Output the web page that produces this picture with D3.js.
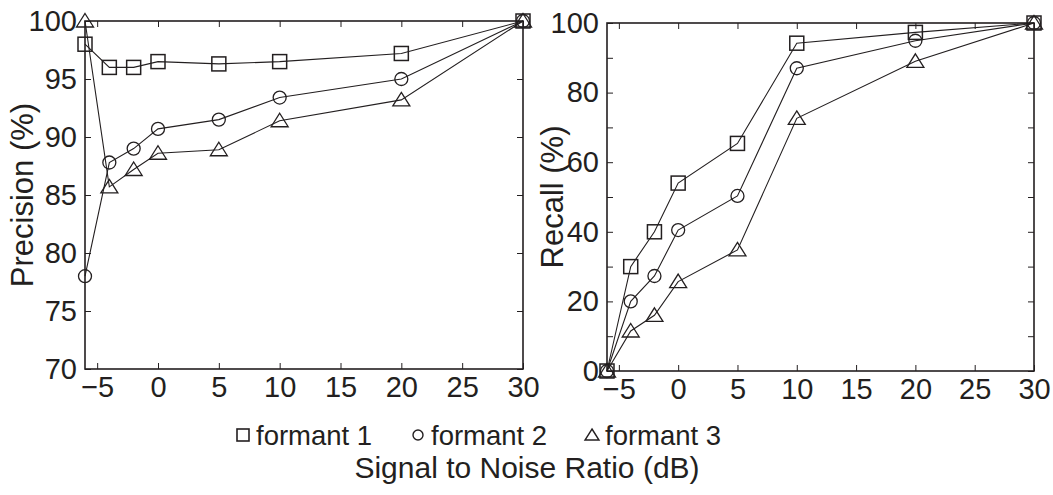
<!DOCTYPE html>
<html><head><meta charset="utf-8">
<script src="https://cdn.jsdelivr.net/npm/d3@7/dist/d3.min.js"></script>
<style>
html,body{margin:0;padding:0;background:#fff;}
svg{display:block;font-family:"Liberation Sans",Arial,Helvetica,sans-serif;}
</style></head>
<body>
<svg id="chart" width="1053" height="495"></svg>
<script>
const snr = [-6, -4, -2, 0, 5, 10, 20, 30];
const precFormant1 = [98, 96, 96, 96.5, 96.3, 96.5, 97.2, 100];
const precFormant2 = [78, 87.8, 89, 90.7, 91.5, 93.4, 95, 100];
const precFormant3 = [100, 85.7, 87.2, 88.6, 88.9, 91.4, 93.2, 100];
const recFormant1 = [0, 30, 40, 54, 65.4, 94.2, 97.3, 100];
const recFormant2 = [0, 20, 27.3, 40.5, 50.3, 87, 94.9, 100];
const recFormant3 = [0, 11.5, 16, 25.7, 34.8, 72.6, 89, 100];
const xTicks = [-5, 0, 5, 10, 15, 20, 25, 30];
const precTicks = [70, 75, 80, 85, 90, 95, 100];
const recTicks = [0, 10, 20, 30, 40, 50, 60, 70, 80, 90, 100];
const recLabels = [0, 20, 40, 60, 80, 100];
const seriesNames = ["formant 1", "formant 2", "formant 3"];
const markerTypes = ["square", "circle", "triangle"];

const ink = "#231f20";
const svg = d3.select("#chart");
const fmt = v => (v < 0 ? "\u2212" + Math.abs(v) : String(v));

function marker(g, type, x, y) {
  if (type === "square") {
    g.append("rect").attr("x", x - 7).attr("y", y - 7).attr("width", 14).attr("height", 14)
      .attr("fill", "none").attr("stroke", ink).attr("stroke-width", 1.5);
  } else if (type === "circle") {
    g.append("circle").attr("cx", x).attr("cy", y).attr("r", 6.5)
      .attr("fill", "none").attr("stroke", ink).attr("stroke-width", 1.3);
  } else {
    g.append("path").attr("d", `M${x},${y - 7.5}L${x + 8.5},${y + 6}L${x - 8.5},${y + 6}Z`)
      .attr("fill", "none").attr("stroke", ink).attr("stroke-width", 1.3);
  }
}

function panel(box, yDomain, yTicks, yLabels, series, title, titleX) {
  const x = d3.scaleLinear().domain([-6, 30]).range([box.x0, box.x1]);
  const y = d3.scaleLinear().domain(yDomain).range([box.y1, box.y0]);
  const g = svg.append("g");
  const tl = 6;
  const axB = d3.axisBottom(x).tickValues(xTicks).tickSize(-tl).tickFormat(fmt).tickPadding(7);
  const axT = d3.axisTop(x).tickValues(xTicks).tickSize(-tl).tickFormat("");
  const axL = d3.axisLeft(y).tickValues(yTicks).tickSize(-tl)
    .tickFormat(d => yLabels.includes(d) ? String(d) : "").tickPadding(8);
  const axR = d3.axisRight(y).tickValues(yTicks).tickSize(-tl).tickFormat("");
  const style = sel => {
    sel.select(".domain").remove();
    sel.selectAll(".tick line").attr("stroke", ink).attr("stroke-width", 1);
    sel.selectAll(".tick text").attr("fill", ink).style("font-size", "29px")
      .style("font-family", "'Liberation Sans',Arial,sans-serif");
  };
  g.append("g").attr("transform", `translate(0,${box.y1})`).call(axB).call(style);
  g.append("g").attr("transform", `translate(0,${box.y0})`).call(axT).call(style);
  g.append("g").attr("transform", `translate(${box.x0},0)`).call(axL).call(style);
  g.append("g").attr("transform", `translate(${box.x1},0)`).call(axR).call(style);
  g.append("rect").attr("x", box.x0).attr("y", box.y0).attr("width", box.x1 - box.x0)
    .attr("height", box.y1 - box.y0).attr("fill", "none").attr("stroke", ink).attr("stroke-width", 1.6);

  const line = d3.line().x((d, i) => x(snr[i])).y(d => y(d));
  series.forEach(vals => {
    g.append("path").datum(vals).attr("d", line).attr("fill", "none")
      .attr("stroke", ink).attr("stroke-width", 1.1);
  });
  series.forEach((vals, k) => {
    vals.forEach((v, i) => marker(g, markerTypes[k], x(snr[i]), y(v)));
  });
  g.append("text").attr("transform", `translate(${titleX},${(box.y0 + box.y1) / 2}) rotate(-90)`)
    .attr("text-anchor", "middle").attr("fill", ink).style("font-size", "31px").text(title);
}

panel({x0: 85, x1: 523, y0: 21, y1: 369}, [70, 100], precTicks, precTicks,
  [precFormant1, precFormant2, precFormant3], "Precision (%)", 33);
panel({x0: 607, x1: 1034, y0: 23, y1: 371}, [0, 100], recTicks, recLabels,
  [recFormant1, recFormant2, recFormant3], "Recall (%)", 563);

// legend
const leg = svg.append("g");
const legX = [243, 418, 592];
seriesNames.forEach((name, k) => {
  const cx = legX[k], cy = 435;
  if (markerTypes[k] === "square") {
    leg.append("rect").attr("x", cx - 6).attr("y", cy - 6).attr("width", 12).attr("height", 12)
      .attr("fill", "none").attr("stroke", ink).attr("stroke-width", 1.6);
  } else if (markerTypes[k] === "circle") {
    leg.append("circle").attr("cx", cx).attr("cy", cy).attr("r", 5)
      .attr("fill", "none").attr("stroke", ink).attr("stroke-width", 1.4);
  } else {
    leg.append("path").attr("d", `M${cx},${cy - 6}L${cx + 7},${cy + 5}L${cx - 7},${cy + 5}Z`)
      .attr("fill", "none").attr("stroke", ink).attr("stroke-width", 1.4);
  }
  leg.append("text").attr("x", cx + 13).attr("y", cy + 10).attr("fill", ink)
    .style("font-size", "27.5px").text(name);
});
svg.append("text").attr("x", 527).attr("y", 478).attr("text-anchor", "middle").attr("fill", ink)
  .style("font-size", "30px").text("Signal to Noise Ratio (dB)");
</script>
</body></html>
